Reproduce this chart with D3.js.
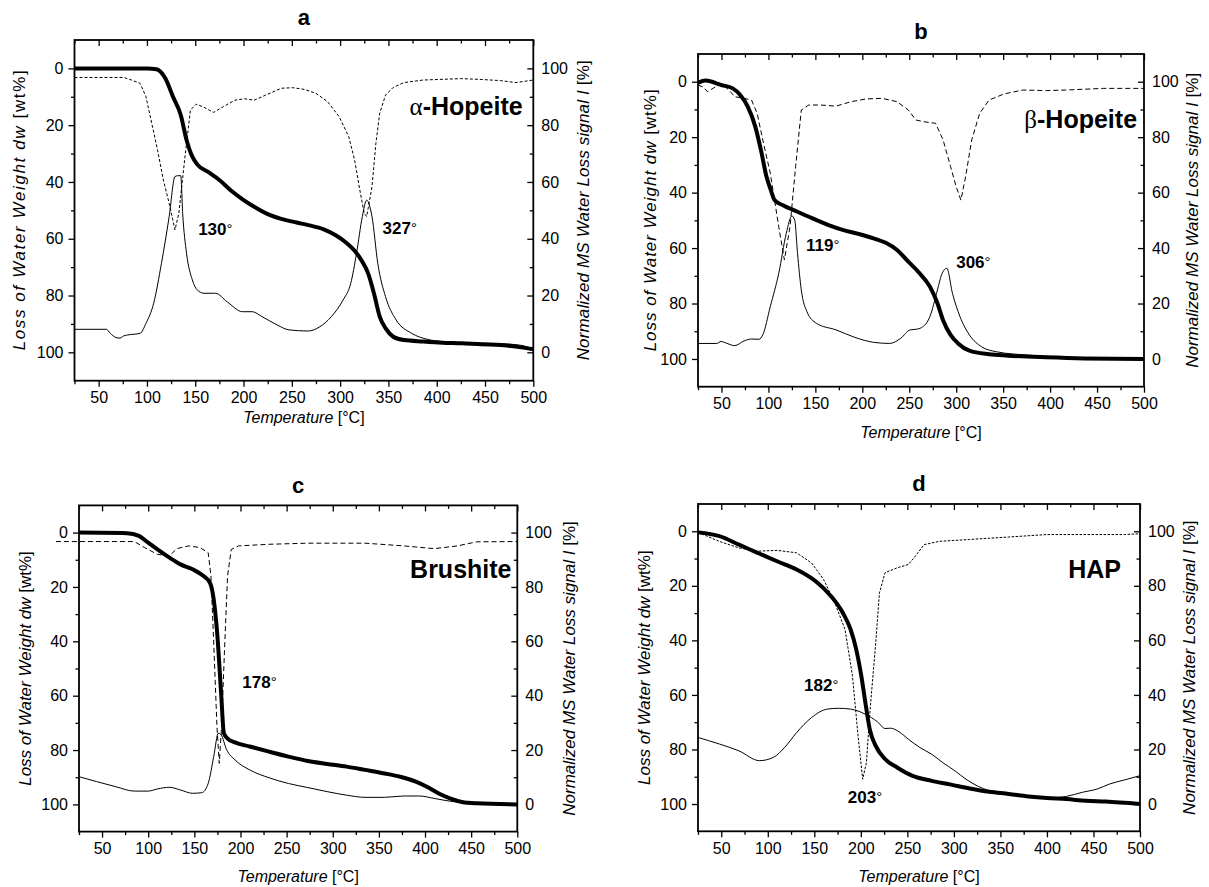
<!DOCTYPE html>
<html>
<head>
<meta charset="utf-8">
<script src="https://cdn.jsdelivr.net/npm/d3@7"></script>
<style>
  body { margin: 0; background: #fff; }
  svg { display: block; }
  text { font-family: "Liberation Sans", Arial, Helvetica, sans-serif; fill: #000; }
</style>
</head>
<body>
<svg id="chart" width="1209" height="887"></svg>
<script>
// ticks
const xMajor = [50, 100, 150, 200, 250, 300, 350, 400, 450, 500];
const xMinor = [25, 75, 125, 175, 225, 275, 325, 375, 425, 475];
const yMajor = [0, 20, 40, 60, 80, 100];
const yMinor = [10, 30, 50, 70, 90];

// [temperature, value] -- weight loss on left axis, MS signal + dashed curve on right axis
const aWeight = [[25,0],[100,0],[110,0.3],[119,3.5],[127,10],[135,16.4],[141,25.2],[147,31.1],[152,33.8],[163,36.4],[175,39.3],[187,43],[199,46.1],[211,48.7],[227,51.6],[239,53],[255,54.3],[267,55.2],[283,56.7],[295,58.7],[307,61.6],[315,64.2],[323,68.1],[329,72.2],[335,79.2],[341,87.4],[347,91.5],[355,94.5],[366,95.7],[386,96.2],[406,96.6],[426,96.8],[446,97.2],[466,97.4],[482,98],[500,98.9]];
const aMs = [[25,8.1],[58,8.1],[62,6.7],[68,5.2],[72,5],[76,5.8],[80,6.1],[93,6.7],[99,10.2],[107,17.3],[115,31.3],[123,47.8],[129,61.9],[132,62.2],[135,62.2],[137,48.9],[141,34.9],[147,25.5],[152,22],[159,20.8],[171,20.8],[183,17.8],[199,14.3],[209,14.3],[219,12.6],[235,9.6],[247,7.9],[267,7.5],[279,9],[291,12.6],[303,18.4],[311,24.3],[317,34.9],[323,47.8],[327.5,53.6],[333,47.8],[339,31.3],[347,19.6],[358,11.4],[374,6.7],[390,4.6],[406,3.8],[446,3.2],[478,2.8],[490,2.3],[500,1]];
const aDtg = [[25,96.8],[76,96.8],[84,95.9],[93,94.7],[99,90],[105,80.6],[111,71.2],[117,60.7],[123,52.5],[129,43.1],[133,48.9],[139,67.7],[145,85.3],[151,87.4],[159,86.3],[169,84.5],[179,86.5],[191,88.8],[201,89.3],[211,88.8],[223,90.6],[239,93],[251,93.2],[263,92.6],[275,91.2],[287,88.3],[299,83],[309,75.9],[315,67.7],[321,56],[325,48.9],[327.5,47.8],[333,58.3],[337,73.5],[341,84.2],[347,90.6],[355,93.3],[366,95],[386,95.9],[426,96.4],[446,96.1],[466,95.7],[482,95],[500,95.9]];

const bWeight = [[25,0.4],[33,-0.4],[50,1.2],[62,2.4],[70,4.8],[78,9],[86,16.2],[92,24.6],[98,34.3],[102.5,39],[106.5,42.7],[115,44.5],[131,46.9],[147,49.3],[164,51.7],[180,53.5],[196,54.9],[212,56.5],[225,58.1],[237,60.7],[249,64.9],[261,69.1],[272,73.9],[280,79.9],[286,86],[294,91.3],[302,94.4],[314,97],[335,98.3],[355,98.8],[396,99.4],[437,99.8],[500,100]];
const bMs = [[25,5.6],[45,5.6],[49.5,6.3],[56,5.6],[64,4.8],[74,6.5],[82,7.2],[90,7.1],[94,8.7],[102,18.9],[111,30.9],[119,45.3],[125,51.6],[128,50.1],[131,38.1],[135,24.9],[141,17.1],[151,12.9],[172,10.5],[192,7.8],[212,6],[229,5.6],[241,7.5],[251,10.5],[257,10.7],[263,11.3],[272,15.3],[280,24.9],[285,30.9],[290,32.7],[296,23.7],[304,15.3],[314,8.7],[327,4.4],[343,2.6],[376,1.4],[416,0.6],[500,0]];
const bDtg = [[25,98.8],[31,98],[35,96.4],[41,97.6],[49.5,99.4],[58,97],[64,94.6],[74,94],[82,93.4],[88,88.6],[94,79],[102,67],[111,47.7],[117,35.7],[123,47.7],[129,69.4],[135,89.8],[143,91.6],[155,91.6],[172,91.2],[188,92.8],[204,93.8],[221,94],[237,92.8],[249,89.8],[257,86.2],[265,85.6],[278,85],[286,79],[294,69.4],[300,62.1],[305,57.3],[310,65.7],[316.5,79],[325,88.6],[335,93.4],[351,95.6],[371,97],[396,96.8],[416,97],[457,97.6],[500,97.6]];

const cWeight = [[25,0],[77,0.2],[90,1.2],[100,3.7],[110,6.2],[123,9.2],[135,11.7],[148,13.5],[160,16],[167,18.5],[171,24.6],[175,38.1],[179,59],[182,73.8],[185.5,75.6],[194,77.2],[210,78.7],[231,80.6],[252,82.4],[273,84],[294,85.1],[315,86.1],[335,87.3],[356,88.6],[373,89.8],[390,91.6],[402,93.5],[415,96],[427,97.8],[440,99.1],[456,99.6],[500,100]];
const cMs = [[25,10.2],[44,8.4],[65,6.5],[85,4.9],[100,4.9],[110,5.7],[123,6.3],[135,5.3],[148,4.1],[158,4.3],[165,7.7],[171,17.6],[176,26.2],[179,25.6],[185,20.1],[194,16.4],[210,12.7],[231,9.8],[252,7.7],[273,6.2],[294,4.7],[315,3.4],[335,2.6],[356,2.6],[377,3.1],[394,3.1],[410,2.2],[431,1],[460,0.4],[500,0.1]];
const cDtg = [[0,96.7],[85,96.7],[96,94.5],[110,92],[123,91.4],[131,94.1],[144,95.1],[156,94.5],[165,92.6],[168,84],[171,59.4],[174.5,28.7],[177,15.1],[179.5,28.7],[183,59.4],[186,84],[190,93.8],[198,95.1],[231,95.7],[273,96.1],[335,96.1],[377,95.1],[410,94.1],[435,95.1],[456,96.6],[500,96.7]];

const dWeight = [[25,0.4],[48,1.8],[69,4.9],[89,7.9],[110,11],[131,14],[151.5,18.3],[168,23.8],[180.6,29.9],[189,36],[195,43.3],[200.5,53],[205.4,64],[209.6,72.6],[216,78.7],[226,83.5],[239,86.6],[255,89.6],[276,91.5],[297,92.9],[317,94.3],[338,95.5],[359,96.3],[380,97.2],[400,97.8],[421,98.2],[442,98.8],[463,99.1],[500,100]];
const dMs = [[25,24.4],[48,22],[69,19.5],[91,15.9],[106,17.1],[118,20.7],[131,26.2],[147,31.7],[164,34.8],[176,35.1],[189,34.8],[205,32.9],[218,30.1],[226,27.7],[232,27.8],[241,26.5],[251,23.8],[263.5,20.7],[276,18.3],[288,15.2],[301,12.2],[313,9.1],[326,6.5],[338,4.9],[359,3.7],[380,2.8],[400,2.2],[421,2.8],[438,4.3],[454,5.5],[467,7.3],[483,8.8],[500,10.4]];
const dDtg = [[25,99.6],[48,96.3],[69,93.9],[89,92.7],[110,93],[131,92.1],[147,88.4],[160,82.3],[172,73.8],[183,64],[191,47],[197,25],[202,9.1],[206,15.2],[210,34.8],[216,59.1],[220,77.4],[226,84.8],[239,86.6],[251,87.8],[257,90.2],[268,95.1],[284,96.3],[317,97],[359,97.9],[400,98.8],[442,98.8],[483,98.8],[500,99.1]];

// peak labels: [text, temperature, left-axis value]
const aPeaks = [["130", 153, 58.7], ["327", 344, 58.3]];
const bPeaks = [["119", 140, 61], ["306", 300, 67.2]];
const cPeaks = [["178", 202, 57.3]];
const dPeaks = [["182", 139, 58.4], ["203", 186, 99.7]];

const panels = [
  { letter: "a", sym: "α", name: "-Hopeite", weight: aWeight, ms: aMs, dtg: aDtg, peaks: aPeaks, nameAt: [489, 16.4],
    box: { l: 74.5, r: 533.3, t: 40, b: 380.7 }, titleY: 25, leftX: 19, rightX: 583, xTitleY: 423, dash: "3,2",
    leftLen: 280, rightLen: 300 },
  { letter: "b", sym: "β", name: "-Hopeite", weight: bWeight, ms: bMs, dtg: bDtg, peaks: bPeaks, nameAt: [492.6, 16.7],
    box: { l: 698, r: 1144, t: 54, b: 386.7 }, titleY: 39, leftX: 650, rightX: 1192, xTitleY: 438, dash: "5,3",
    leftLen: 262, rightLen: 295 },
  { letter: "c", sym: "", name: "Brushite", weight: cWeight, ms: cMs, dtg: cDtg, peaks: cPeaks, nameAt: [493.7, 16.8],
    box: { l: 79, r: 517.3, t: 505.4, b: 831.6 }, titleY: 493, leftX: 25, rightX: 569, xTitleY: 882, dash: "5,3",
    leftLen: 0, rightLen: 0 },
  { letter: "d", sym: "", name: "HAP", weight: dWeight, ms: dMs, dtg: dDtg, peaks: dPeaks, nameAt: [479.6, 17.1],
    box: { l: 698, r: 1140, t: 504, b: 831.3 }, titleY: 491, leftX: 644, rightX: 1189, xTitleY: 882, dash: "2.5,1.5",
    leftLen: 0, rightLen: 0 }
];

const svg = d3.select("#chart");

function drawPanel(p) {
  const g = svg.append("g");
  const bx = p.box;

  const x = d3.scaleLinear().domain([25, 500]).range([bx.l, bx.r]);
  const yL = d3.scaleLinear().domain([-10, 110]).range([bx.t, bx.b]);
  const yR = d3.scaleLinear().domain([-10, 110]).range([bx.b, bx.t]);

  // axes: minor ticks first, then majors with labels
  const styleAxis = sel => {
    sel.select(".domain").remove();
    sel.selectAll(".tick line").attr("stroke", "#000").attr("stroke-width", 1.3);
    sel.selectAll(".tick text").attr("font-size", 16).attr("font-family", "Liberation Sans, Arial, sans-serif");
  };

  g.append("g").attr("transform", `translate(0,${bx.b})`)
    .call(d3.axisBottom(x).tickValues(xMinor).tickSize(3.5).tickFormat("")).call(styleAxis);
  g.append("g").attr("transform", `translate(0,${bx.b})`)
    .call(d3.axisBottom(x).tickValues(xMajor).tickSize(6).tickPadding(5)).call(styleAxis);
  g.append("g").attr("transform", `translate(0,${bx.t})`)
    .call(d3.axisTop(x).tickValues(xMinor).tickSize(-3.5).tickFormat("")).call(styleAxis);
  g.append("g").attr("transform", `translate(0,${bx.t})`)
    .call(d3.axisTop(x).tickValues(xMajor).tickSize(-6).tickFormat("")).call(styleAxis);

  g.append("g").attr("transform", `translate(${bx.l},0)`)
    .call(d3.axisLeft(yL).tickValues(yMinor).tickSize(3.5).tickFormat("")).call(styleAxis);
  g.append("g").attr("transform", `translate(${bx.l},0)`)
    .call(d3.axisLeft(yL).tickValues(yMajor).tickSize(6).tickPadding(5)).call(styleAxis);
  g.append("g").attr("transform", `translate(${bx.r},0)`)
    .call(d3.axisRight(yR).tickValues(yMinor).tickSize(-3.5).tickFormat("")).call(styleAxis);
  g.append("g").attr("transform", `translate(${bx.r},0)`)
    .call(d3.axisRight(yR).tickValues(yMajor).tickSize(-6).tickPadding(8)).call(styleAxis);

  // frame
  g.append("rect")
    .attr("x", bx.l).attr("y", bx.t)
    .attr("width", bx.r - bx.l).attr("height", bx.b - bx.t)
    .attr("fill", "none").attr("stroke", "#000").attr("stroke-width", 1.8);

  // curves
  const lineR = d3.line().x(d => x(d[0])).y(d => yR(d[1]));
  const lineL = d3.line().x(d => x(d[0])).y(d => yL(d[1])).curve(d3.curveMonotoneX);

  g.append("path").datum(p.dtg)
    .attr("d", lineR)
    .attr("fill", "none").attr("stroke", "#000").attr("stroke-width", 1)
    .attr("stroke-dasharray", p.dash);

  g.append("path").datum(p.ms)
    .attr("d", lineR.curve(d3.curveMonotoneX))
    .attr("fill", "none").attr("stroke", "#000").attr("stroke-width", 1);

  g.append("path").datum(p.weight)
    .attr("d", lineL)
    .attr("fill", "none").attr("stroke", "#000").attr("stroke-width", 4)
    .attr("stroke-linejoin", "round");

  // panel letter
  g.append("text")
    .attr("x", (bx.l + bx.r) / 2).attr("y", p.titleY)
    .attr("text-anchor", "middle").attr("font-size", 22).attr("font-weight", "bold")
    .text(p.letter);

  // sample name
  const nm = g.append("text")
    .attr("x", x(p.nameAt[0])).attr("y", yL(p.nameAt[1]))
    .attr("text-anchor", "end").attr("font-size", 25);
  if (p.sym) {
    nm.append("tspan").attr("font-family", "Liberation Serif, Times New Roman, serif").text(p.sym);
  }
  nm.append("tspan").attr("font-weight", "bold").text(p.name);

  // peak temperatures
  p.peaks.forEach(pk => {
    const t = g.append("text")
      .attr("x", x(pk[1])).attr("y", yL(pk[2]))
      .attr("font-size", 17);
    t.append("tspan").attr("font-weight", "bold").text(pk[0]);
    t.append("tspan").attr("font-size", 15).attr("dy", -1).text("°");
  });

  // axis titles
  const xt = g.append("text")
    .attr("x", (bx.l + bx.r) / 2).attr("y", p.xTitleY)
    .attr("text-anchor", "middle").attr("font-size", 16);
  xt.append("tspan").attr("font-style", "italic").text("Temperature");
  xt.append("tspan").text(" [°C]");

  const cy = (bx.t + bx.b) / 2;
  const lt = g.append("text")
    .attr("transform", `translate(${p.leftX},${cy}) rotate(-90)`)
    .attr("dy", "0.35em")
    .attr("text-anchor", "middle").attr("font-size", 17);
  if (p.leftLen) lt.attr("textLength", p.leftLen).attr("lengthAdjust", "spacing");
  lt.append("tspan").attr("font-style", "italic").text("Loss of Water Weight dw");
  lt.append("tspan").text(" [wt%]");

  const rt = g.append("text")
    .attr("transform", `translate(${p.rightX},${cy}) rotate(-90)`)
    .attr("dy", "0.35em")
    .attr("text-anchor", "middle").attr("font-size", 17);
  if (p.rightLen) rt.attr("textLength", p.rightLen).attr("lengthAdjust", "spacing");
  rt.append("tspan").attr("font-style", "italic").text("Normalized MS Water Loss signal I");
  rt.append("tspan").text(" [%]");
}

panels.forEach(drawPanel);
</script>
</body>
</html>
